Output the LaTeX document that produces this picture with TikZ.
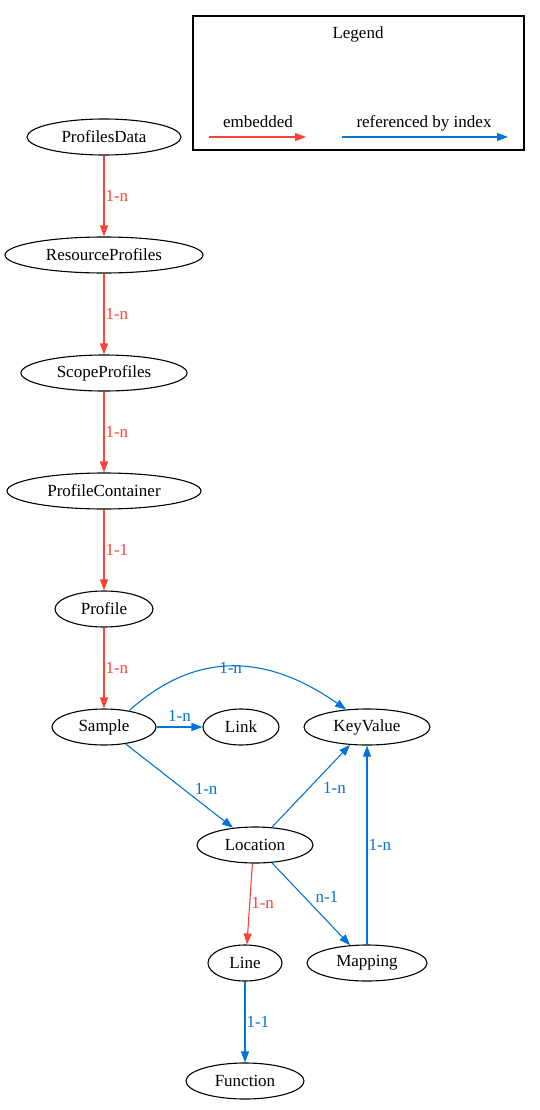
\documentclass[tikz,border=0pt]{standalone}
\usepackage{fontspec}
\setmainfont{Liberation Serif}
\usetikzlibrary{shapes.geometric,arrows.meta,positioning}
\definecolor{emb}{HTML}{FF4136}
\definecolor{ref}{HTML}{0074D9}
\begin{document}
\begin{tikzpicture}[x=1pt,y=-1pt,
  every node/.style={font=\fontsize{17}{19}\selectfont},
  ent/.style={ellipse,draw=black,line width=1.1pt,minimum height=36pt,inner sep=0pt},
  embedded/.style={draw=emb,line width=1.1pt,-{Triangle[length=11pt,width=8pt]}},
  refidx/.style={draw=ref,line width=1.1pt,-{Triangle[length=11pt,width=8pt]}},
  elab/.style={text=emb,inner sep=1pt},
  rlab/.style={text=ref,inner sep=1pt},
  leglab/.style={anchor=base,text=black,inner sep=0pt}]
\useasboundingbox (0,0) rectangle (540,1110);
% legend
\node[draw=black,line width=1.1pt,minimum width=331pt,minimum height=134pt,inner sep=0pt] (legend) at (358.5,83) {};
\node (legtitle) at (358,34) {Legend};
\coordinate (e1) at (209,137); \coordinate (e2) at (306,137);
\coordinate (r1) at (342,137); \coordinate (r2) at (508,137);
\draw[embedded] (e1) -- (e2);
\draw[refidx] (r1) -- (r2);
\node[leglab] (legemb) at (258,128) {embedded};
\node[leglab] (legref) at (424,128) {referenced by index};
% nodes
\node[ent,minimum width=154pt] (pd) at (104,137) {ProfilesData};
\node[ent,minimum width=198pt] (rp) at (104,255) {ResourceProfiles};
\node[ent,minimum width=166pt] (sp) at (104,373) {ScopeProfiles};
\node[ent,minimum width=194pt] (pc) at (104,491) {ProfileContainer};
\node[ent,minimum width=98pt] (pr) at (104,609) {Profile};
\node[ent,minimum width=104pt] (sa) at (104,727) {Sample};
\node[ent,minimum width=76pt] (li) at (241,727) {Link};
\node[ent,minimum width=126pt] (kv) at (367,727) {KeyValue};
\node[ent,minimum width=116pt] (lo) at (255,845) {Location};
\node[ent,minimum width=74pt] (ln) at (245,963) {Line};
\node[ent,minimum width=120pt] (ma) at (367,963) {Mapping};
\node[ent,minimum width=118pt] (fn) at (245,1081) {Function};
% edges
\draw[embedded] (pd) -- node[elab,right] {1-n} (rp);
\draw[embedded] (rp) -- node[elab,right] {1-n} (sp);
\draw[embedded] (sp) -- node[elab,right] {1-n} (pc);
\draw[embedded] (pc) -- node[elab,right] {1-1} (pr);
\draw[embedded] (pr) -- node[elab,right] {1-n} (sa);
\draw[refidx] (sa.33) to[out=42,in=145,looseness=1.1] node[rlab,pos=0.48,yshift=-1pt] {1-n} (kv.140);
\draw[refidx] (sa) -- node[rlab,above=4pt] {1-n} (li);
\draw[refidx] (sa) -- node[rlab,pos=0.62,above right=0pt and 1pt] {1-n} (lo);
\draw[refidx] (lo) -- node[rlab,pos=0.56,below right=0pt and 6pt] {1-n} (kv);
\draw[embedded] (lo.262) -- node[elab,right,pos=0.48] {1-n} (ln.84);
\draw[refidx] (lo) -- node[rlab,pos=0.5,above right=0pt and 3pt] {n-1} (ma);
\draw[refidx] (ma) -- node[rlab,right] {1-n} (kv);
\draw[refidx] (ln) -- node[rlab,right] {1-1} (fn);
\end{tikzpicture}
\end{document}
